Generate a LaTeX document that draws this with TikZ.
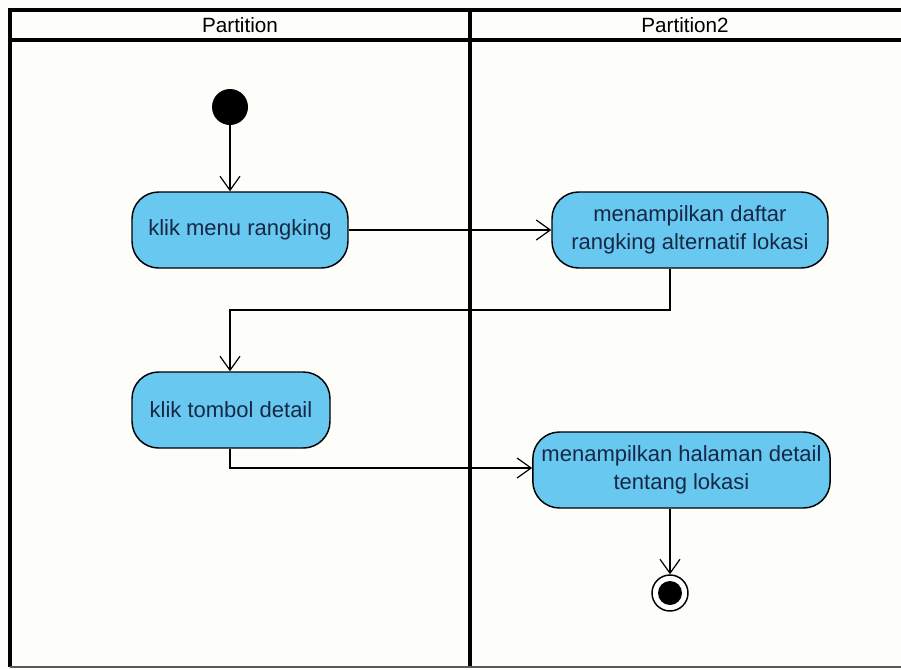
\documentclass[tikz,border=0pt]{standalone}
\usepackage{fontspec}
\setmainfont{Liberation Sans}
\usetikzlibrary{arrows.meta}
\definecolor{actfill}{RGB}{104,200,240}
\definecolor{acttext}{RGB}{22,40,70}
\definecolor{paper}{RGB}{253,253,249}
\tikzset{
  activity/.style={draw=black, line width=1.1pt, fill=actfill, rounded corners=20pt,
    text=acttext, font=\fontsize{16.5}{21}\selectfont, align=center, inner sep=0pt},
  flow/.style={draw=black, line width=0.9pt,
    -{Straight Barb[length=10.5pt,width=15pt,line width=0.9pt]}},
  lane/.style={draw=black, line width=2.6pt},
  lanehead/.style={font=\fontsize{15.5}{18}\selectfont},
}
\begin{document}
\begin{tikzpicture}[x=0.75pt,y=-0.75pt]
\useasboundingbox (0,0) rectangle (901,669);
\fill[paper] (0,0) rectangle (901,669);
% swimlane frame
\draw[lane] (901,10) -- (10,10) -- (10,667);
\draw[lane] (10,40) -- (901,40);
\draw[lane] (470,10) -- (470,667);
\draw[gray!70!black, line width=1.2pt] (10,667) -- (901,667);
\node[lanehead] (h1) at (240,25) {Partition};
\node[lanehead] (h2) at (685,25) {Partition2};
% nodes
\node[circle, fill=black, minimum size=27pt, inner sep=0pt] (start) at (230,107) {};
\node[activity, minimum width=162pt, minimum height=57pt] (a1) at (240,230) {klik menu rangking};
\node[activity, minimum width=207pt, minimum height=57pt] (a2) at (690,230) {menampilkan daftar\\rangking alternatif lokasi};
\node[activity, minimum width=148.5pt, minimum height=57pt] (a3) at (231,410) {klik tombol detail};
\node[activity, minimum width=223pt, minimum height=57pt] (a4) at (681.5,470) {menampilkan halaman detail\\tentang lokasi};
\node[circle, draw=black, line width=1.1pt, fill=white, minimum size=27pt, inner sep=0pt] (stop) at (670,593) {};
\node[circle, fill=black, minimum size=18pt, inner sep=0pt] (stopdot) at (stop.center) {};
% control flows
\coordinate (k1) at (670,310);
\coordinate (k2) at (230,310);
\coordinate (k3) at (230,468);
\draw[flow] (start) -- (start |- a1.north);
\draw[flow] (a1) -- (a2);
\draw[flow] (a2.south -| k1) -- (k1) -- (k2) -- (k2 |- a3.north);
\draw[flow] (a3.south -| k3) -- (k3) -- (k3 -| a4.west);
\draw[flow] (a4.south -| stop) -- (stop);
\end{tikzpicture}
\end{document}
